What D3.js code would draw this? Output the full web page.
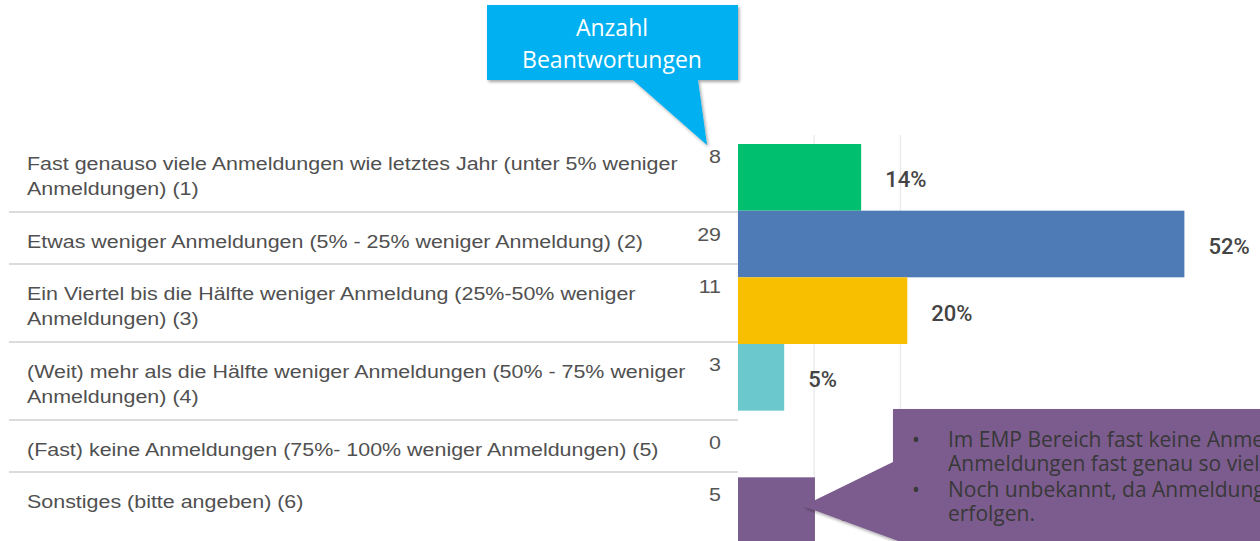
<!DOCTYPE html>
<html>
<head>
<meta charset="utf-8">
<script src="https://cdn.jsdelivr.net/npm/d3@7"></script>
<style>
  body { margin: 0; background: #fff; overflow: hidden; }
  svg { display: block; }
</style>
</head>
<body>
<div id="chart"></div>
<script>
// answer options (line-broken as in the survey export)
const answers = [
  ["Fast genauso viele Anmeldungen wie letztes Jahr (unter 5% weniger", "Anmeldungen) (1)"],
  ["Etwas weniger Anmeldungen (5% - 25% weniger Anmeldung) (2)"],
  ["Ein Viertel bis die Hälfte weniger Anmeldung (25%-50% weniger", "Anmeldungen) (3)"],
  ["(Weit) mehr als die Hälfte weniger Anmeldungen (50% - 75% weniger", "Anmeldungen) (4)"],
  ["(Fast) keine Anmeldungen (75%- 100% weniger Anmeldungen) (5)"],
  ["Sonstiges (bitte angeben) (6)"]
];
const counts = [8, 29, 11, 3, 0, 5];
const gridPercents = [10, 20];

const calloutTop = ["Anzahl", "Beantwortungen"];
const calloutNotes = [
  ["Im EMP Bereich fast keine Anmeldungen", "Anmeldungen fast genau so viele"],
  ["Noch unbekannt, da Anmeldungen", "erfolgen."]
];

const colors = ["#00bf6f", "#4e7bb5", "#f8be00", "#6bc8cd", "#b5b5b5", "#7b5c8e"];

let width = 1260,
  height = 541;

let svg = d3.select("#chart")
  .append("svg")
  .attr("width", width)
  .attr("height", height);

let defs = svg.append("defs");
let shadow = defs.append("filter").attr("id", "shadow")
  .attr("x", "-10%").attr("y", "-10%").attr("width", "130%").attr("height", "140%");
shadow.append("feDropShadow")
  .attr("dx", 1.5).attr("dy", 2).attr("stdDeviation", 1.5)
  .attr("flood-color", "#000").attr("flood-opacity", 0.35);

let total = d3.sum(counts);
let pct = counts.map(c => c / total * 100);

// ---- left table ----
let lineH = 26;
let rowTops = [];
let acc = 134;
answers.forEach(a => {
  rowTops.push(acc);
  acc += (a.length + 1) * lineH;
});

let table = svg.append("g").attr("class", "table");

// horizontal stretch of the export font
let probe = table.append("text")
  .attr("font-family", "Liberation Sans, Arial, sans-serif")
  .attr("font-size", 18.5)
  .text(answers[0][0]);
let sx = 651 / probe.node().getComputedTextLength();
probe.remove();

table.selectAll("line.sep")
  .data(rowTops.slice(1))
  .join("line")
  .attr("class", "sep")
  .attr("x1", 9)
  .attr("x2", 738)
  .attr("y1", d => d)
  .attr("y2", d => d)
  .attr("stroke", "#dcdcdc")
  .attr("stroke-width", 2);

let rows = table.selectAll("g.row")
  .data(answers)
  .join("g")
  .attr("class", "row");

rows.each(function (lines, i) {
  let g = d3.select(this);
  lines.forEach((t, j) => {
    g.append("text")
      .attr("transform", `translate(27,${rowTops[i] + 35.5 + j * 25}) scale(${sx},1)`)
      .attr("font-family", "Liberation Sans, Arial, sans-serif")
      .attr("font-size", 18.5)
      .attr("fill", "#505050")
      .text(t);
  });
  g.append("text")
    .attr("transform", `translate(721,${rowTops[i] + 29}) scale(${sx},1)`)
    .attr("text-anchor", "end")
    .attr("font-family", "Liberation Sans, Arial, sans-serif")
    .attr("font-size", 18.5)
    .attr("fill", "#555")
    .text(counts[i]);
});

// ---- bars ----
let x = d3.scaleLinear()
  .domain([0, 52])
  .range([738, 738 + 52 * 8.62]);

let y = d3.scaleBand()
  .domain(d3.range(counts.length))
  .range([144, 544])
  .padding(0);

let bars = svg.append("g").attr("class", "bars");

bars.selectAll("line.grid")
  .data(gridPercents)
  .join("line")
  .attr("class", "grid")
  .attr("x1", d => x(d) - 10)
  .attr("x2", d => x(d) - 10)
  .attr("y1", 135)
  .attr("y2", height)
  .attr("stroke", "#ebebeb")
  .attr("stroke-width", 1.5);

bars.selectAll("rect")
  .data(pct)
  .join("rect")
  .attr("x", x(0))
  .attr("y", (d, i) => y(i))
  .attr("width", d => x(d) - x(0))
  .attr("height", y.bandwidth())
  .attr("fill", (d, i) => colors[i]);

bars.selectAll("text.pct")
  .data(pct)
  .join("text")
  .attr("class", "pct")
  .attr("x", d => x(d) + 24)
  .attr("y", (d, i) => y(i) + y.bandwidth() / 2 + 10)
  .attr("font-family", "Roboto, sans-serif")
  .attr("font-weight", 500)
  .attr("font-size", 22)
  .attr("fill", "#444")
  .text(d => d > 0 ? Math.round(d) + "%" : "");

// ---- callout: Anzahl Beantwortungen ----
let c1 = svg.append("g").attr("class", "callout-top");
c1.append("path")
  .attr("d", "M487,5 H738 V80 H698 L707,145 L633,80 H487 Z")
  .attr("fill", "#00b0f0")
  .attr("filter", "url(#shadow)");
c1.selectAll("text")
  .data(calloutTop)
  .join("text")
  .attr("x", 612)
  .attr("y", (d, i) => 36 + i * 32)
  .attr("text-anchor", "middle")
  .attr("font-family", "Open Sans, sans-serif")
  .attr("font-size", 23)
  .attr("fill", "#fff")
  .text(d => d);

// ---- callout: Sonstiges notes ----
let c2 = svg.append("g").attr("class", "callout-notes");
c2.append("path")
  .attr("d", "M893,409 H1270 V560 H950 L803,506 L893,462 Z")
  .attr("fill", "#7b5c8e")
  .attr("filter", "url(#shadow)");

let noteLines = [];
calloutNotes.forEach((n, p) => n.forEach((t, j) => noteLines.push({ t, bullet: j === 0, p, j })));
let noteY = d => 447 + d.p * 50 + d.j * 24;

c2.selectAll("text.note")
  .data(noteLines)
  .join("text")
  .attr("class", "note")
  .attr("x", 948)
  .attr("y", noteY)
  .attr("font-family", "Open Sans, sans-serif")
  .attr("font-size", 21)
  .attr("fill", "#383838")
  .text(d => d.t);

c2.selectAll("text.bullet")
  .data(noteLines.filter(d => d.bullet))
  .join("text")
  .attr("class", "bullet")
  .attr("x", 912)
  .attr("y", noteY)
  .attr("font-family", "Open Sans, sans-serif")
  .attr("font-size", 21)
  .attr("fill", "#383838")
  .text("•");
</script>
</body>
</html>
